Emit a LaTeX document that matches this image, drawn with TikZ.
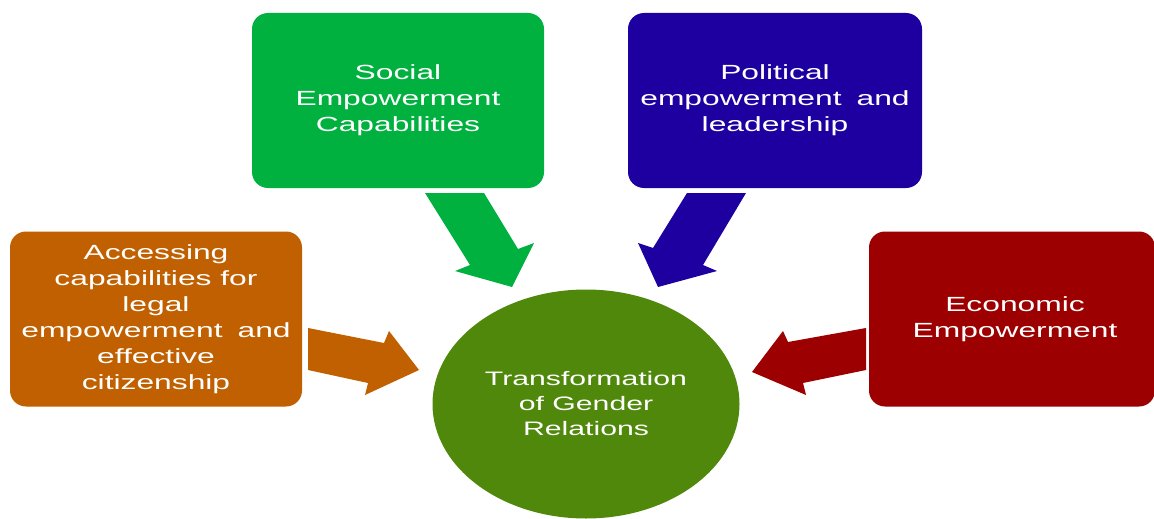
\documentclass[tikz,border=0pt]{standalone}
\usepackage{fontspec}
\setmainfont{Liberation Sans}[FakeStretch=1.55]
\usetikzlibrary{shapes.geometric}
\definecolor{orangeC}{RGB}{192,96,0}
\definecolor{greenC}{RGB}{0,177,64}
\definecolor{blueC}{RGB}{30,0,160}
\definecolor{redC}{RGB}{156,0,0}
\definecolor{olivC}{RGB}{79,136,11}
\begin{document}
\begin{tikzpicture}[x=1pt,y=-1pt,
  box/.style={rectangle, rounded corners=16pt, text=white, align=center, inner sep=0pt,
    font=\fontsize{20.5}{26}\selectfont},
  blockarrow/.style={draw=none},
]
\useasboundingbox (0,0) rectangle (1154,519);
% block arrows
\fill[orangeC, blockarrow] (308,328) -- (384,343) -- (389,331) -- (419,370) -- (365,395) -- (368,383) -- (308,370) -- cycle;
\fill[greenC, blockarrow] (425,193) -- (484,193) -- (518,249) -- (534,243) -- (512,287) -- (455,271) -- (470,265) -- cycle;
\fill[blueC, blockarrow] (746,193) -- (687,193) -- (653,248) -- (638,243) -- (658,287) -- (717,271) -- (703,265) -- cycle;
\fill[redC, blockarrow] (866,328) -- (788,342) -- (783,331) -- (752,372) -- (806,395) -- (803,383) -- (866,370) -- cycle;
% boxes
\node[box, fill=orangeC, minimum width=292pt, minimum height=175pt] (acc) at (156,319)
  {Accessing\\capabilities for\\legal\\empowerment\hspace{0.3em} and\\effective\\citizenship};
\node[box, fill=greenC, minimum width=292pt, minimum height=175pt] (soc) at (398,100.5)
  {Social\\Empowerment\\Capabilities};
\node[box, fill=blueC, minimum width=294pt, minimum height=175pt] (pol) at (775,100.5)
  {Political\\empowerment\hspace{0.3em} and\\leadership};
\node[box, fill=redC, minimum width=286pt, minimum height=175pt] (eco) at (1012,319)
  {\hspace{6pt}Economic\\\hspace{6pt}Empowerment};
\node[ellipse, fill=olivC, text=white, align=center, inner sep=0pt,
  minimum width=307pt, minimum height=229pt,
  font=\fontsize{19.5}{25}\selectfont] (tgr) at (586,404)
  {Transformation\\of Gender\\Relations};
\end{tikzpicture}
\end{document}
